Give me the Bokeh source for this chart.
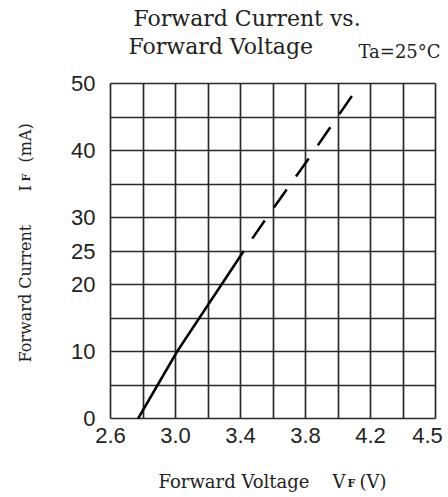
import math
from bokeh.plotting import figure
from bokeh.models import Range1d, FixedTicker, Label, Grid
from bokeh.core.properties import value
from bokeh.embed import file_html
from bokeh.resources import INLINE

# ---- data ----
vf_solid = [2.77, 3.01, 3.42]
if_solid = [0, 10, 25]
vf_dash = [3.42, 3.585, 3.82, 4.09]
if_dash = [25, 30.8, 38.8, 48.3]

x_ticks = [2.6, 3.0, 3.4, 3.8, 4.2, 4.6]
x_tick_labels = ["2.6", "3.0", "3.4", "3.8", "4.2", "4.5"]
y_ticks = [0, 10, 20, 25, 30, 40, 50]
y_tick_labels = ["0", "10", "20", "25", "30", "40", "50"]
x_grid = [2.6, 2.8, 3.0, 3.2, 3.4, 3.6, 3.8, 4.0, 4.2, 4.4, 4.6]
y_grid = [0, 5, 10, 15, 20, 25, 30, 35, 40, 45, 50]

title_lines = ["Forward Current vs.", "Forward Voltage"]
cond_text = "Ta=25°C"

# ---- layout (picture pixels, from top-left) ----
W, H = 448, 497
FL, FR, FT, FB = 110, 435, 83, 418        # box of the grid
XMIN, XMAX, YMIN, YMAX = 2.6, 4.6, 0, 50


def dx(px):
    return XMIN + (px - FL) * (XMAX - XMIN) / (FR - FL)


def dy(py):
    return YMIN + (FB - py) * (YMAX - YMIN) / (FB - FT)


p = figure(width=W, height=H, output_backend="svg", toolbar_location=None,
           x_range=Range1d(dx(0), dx(W)), y_range=Range1d(dy(H), dy(0)),
           min_border=0)
p.xaxis.visible = False
p.yaxis.visible = False
p.background_fill_color = "white"
p.border_fill_color = "white"
p.outline_line_color = None

GRID_COLOR = "#2a2a2a"
GRID_W = 1.7
p.xgrid.ticker = FixedTicker(ticks=x_grid)
p.ygrid.ticker = FixedTicker(ticks=y_grid)
if "cross_bounds" in Grid.properties():
    p.xgrid.cross_bounds = (YMIN, YMAX)
    p.ygrid.cross_bounds = (XMIN, XMAX)
    for g in (p.xgrid, p.ygrid):
        g.grid_line_color = GRID_COLOR
        g.grid_line_width = GRID_W
        g.grid_line_alpha = 1.0
else:
    p.xgrid.visible = False
    p.ygrid.visible = False
    p.segment(x0=x_grid, y0=[YMIN] * len(x_grid), x1=x_grid, y1=[YMAX] * len(x_grid),
              line_color=GRID_COLOR, line_width=GRID_W)
    p.segment(x0=[XMIN] * len(y_grid), y0=y_grid, x1=[XMAX] * len(y_grid), y1=y_grid,
              line_color=GRID_COLOR, line_width=GRID_W)

p.line(vf_solid, if_solid, line_color="black", line_width=2.5)
p.line(vf_dash, if_dash, line_color="black", line_width=2.5,
       line_dash="22 16", line_dash_offset=23)

# tick labels
TICK_FONT = value("Liberation Sans")
TICK_SIZE = value("22px")
x_nudge = [0] * (len(x_ticks) - 1) + [-8]   # last label pulled inside the picture
p.text(x=x_ticks, y=[dy(427)] * len(x_ticks), text=x_tick_labels,
       x_offset=x_nudge,
       text_font=TICK_FONT, text_font_size=TICK_SIZE, text_color="#222222",
       text_align="center", text_baseline="top")
p.text(x=[dx(95)] * len(y_ticks), y=y_ticks, text=y_tick_labels,
       text_font=TICK_FONT, text_font_size=TICK_SIZE, text_color="#222222",
       text_align="right", text_baseline="middle")

SERIF = "DejaVu Serif"
INK = "#222222"
BASE_FIX = 0.33   # em; renderer draws alphabetic text slightly lower than anchor


def lab(px, py, text, size_px, angle=0.0, weight="normal"):
    shift = BASE_FIX * size_px
    if angle:
        px = px - shift
    else:
        py = py - shift
    p.add_layout(Label(x=dx(px), y=dy(py), text=text, text_font=SERIF,
                       text_font_size=f"{size_px}px", text_color=INK, angle=angle,
                       text_align="left", text_baseline="alphabetic",
                       text_font_style=weight))


# title
lab(133, 25, title_lines[0], 22)
lab(128, 53, title_lines[1], 22)
lab(358, 57, cond_text, 18)

# x axis label with subscript
lab(158, 487, "Forward Voltage", 18)
lab(332, 487, "V", 18)
lab(347, 487, "F", 11, weight="bold")
lab(359, 487, "(V)", 18)

# y axis label with subscript (rotated)
A = math.pi / 2
lab(30, 362, "Forward Current", 16, angle=A)
lab(30, 191, "I", 16, angle=A)
lab(30, 181, "F", 11, angle=A, weight="bold")
lab(30, 162, "(mA)", 16, angle=A)

open("out.html", "w").write(file_html(p, INLINE))
